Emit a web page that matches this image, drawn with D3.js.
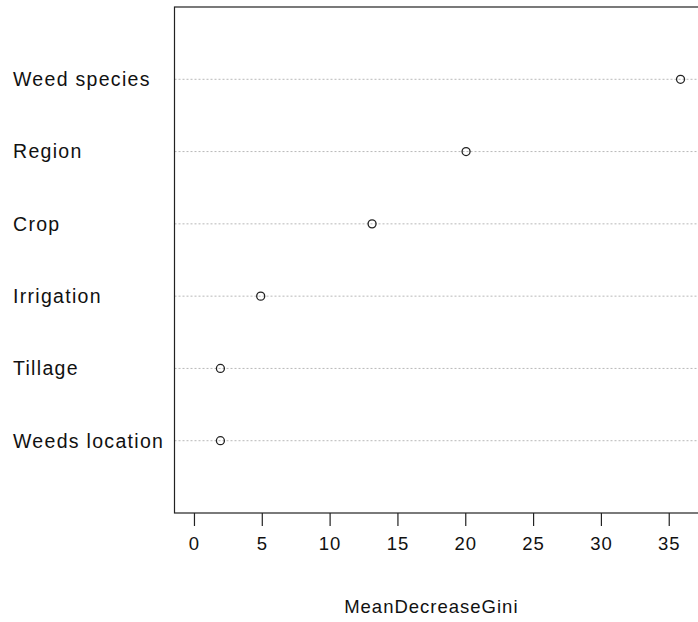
<!DOCTYPE html>
<html>
<head>
<meta charset="utf-8">
<script src="https://cdn.jsdelivr.net/npm/d3@7"></script>
<style>
  body { margin: 0; background: #fff; }
  text { font-family: "Liberation Sans", Arial, Helvetica, sans-serif; fill: #111; }
</style>
</head>
<body>
<div id="app"></div>
<script>
// variables, bottom to top as in the dot chart
const variables = ["Weeds location", "Tillage", "Irrigation", "Crop", "Region", "Weed species"];
const gini = [1.95, 1.95, 4.92, 13.13, 20.06, 35.87];
const xTicks = [0, 5, 10, 15, 20, 25, 30, 35];

const width = 698, height = 622;
const box = { left: 174.5, top: 7, bottom: 513, right: 700 };

const svg = d3.select("#app")
  .append("svg")
  .attr("width", width)
  .attr("height", height);

const maxV = d3.max(gini);
const x = d3.scaleLinear()
  .domain([-0.04 * maxV, maxV * 1.04])
  .range([box.left, box.right]);

const y = d3.scaleLinear()
  .domain([0, variables.length + 1])
  .range([box.bottom, box.top]);

// dotted guide lines
svg.selectAll(".guide")
  .data(variables)
  .enter()
  .append("line")
  .attr("x1", box.left)
  .attr("x2", box.right)
  .attr("y1", (d, i) => y(i + 1))
  .attr("y2", (d, i) => y(i + 1))
  .attr("stroke", "#b8b8b8")
  .attr("stroke-width", 1)
  .attr("stroke-dasharray", "2,2");

// row labels
svg.selectAll(".lab")
  .data(variables)
  .enter()
  .append("text")
  .attr("x", 13)
  .attr("y", (d, i) => y(i + 1))
  .attr("dy", "0.35em")
  .style("font-size", "19.5px")
  .style("letter-spacing", "1.3px")
  .text((d) => d);

// points
svg.selectAll(".pt")
  .data(gini)
  .enter()
  .append("circle")
  .attr("cx", (d) => x(d))
  .attr("cy", (d, i) => y(i + 1))
  .attr("r", 4)
  .attr("fill", "none")
  .attr("stroke", "#222")
  .attr("stroke-width", 1.3);

// plot box
svg.append("rect")
  .attr("x", box.left)
  .attr("y", box.top)
  .attr("width", box.right - box.left)
  .attr("height", box.bottom - box.top)
  .attr("fill", "none")
  .attr("stroke", "#222")
  .attr("stroke-width", 1.2);

// x axis
const axis = svg.append("g")
  .attr("transform", `translate(0,${box.bottom})`)
  .call(d3.axisBottom(x).tickValues(xTicks).tickSize(13).tickPadding(11).tickFormat(d3.format("d")));
axis.select(".domain").remove();
axis.selectAll(".tick line").attr("stroke", "#222").attr("stroke-width", 1.2);
axis.selectAll("text")
  .style("font-size", "18.5px")
  .style("letter-spacing", "1px")
  .attr("fill", "#111");

svg.append("text")
  .attr("x", x(xTicks[0]) + (x(xTicks[xTicks.length - 1]) - x(xTicks[0])) / 2)
  .attr("y", 607)
  .attr("dy", "0.35em")
  .attr("text-anchor", "middle")
  .style("font-size", "18.5px")
  .style("letter-spacing", "1px")
  .text("MeanDecreaseGini");
</script>
</body>
</html>
